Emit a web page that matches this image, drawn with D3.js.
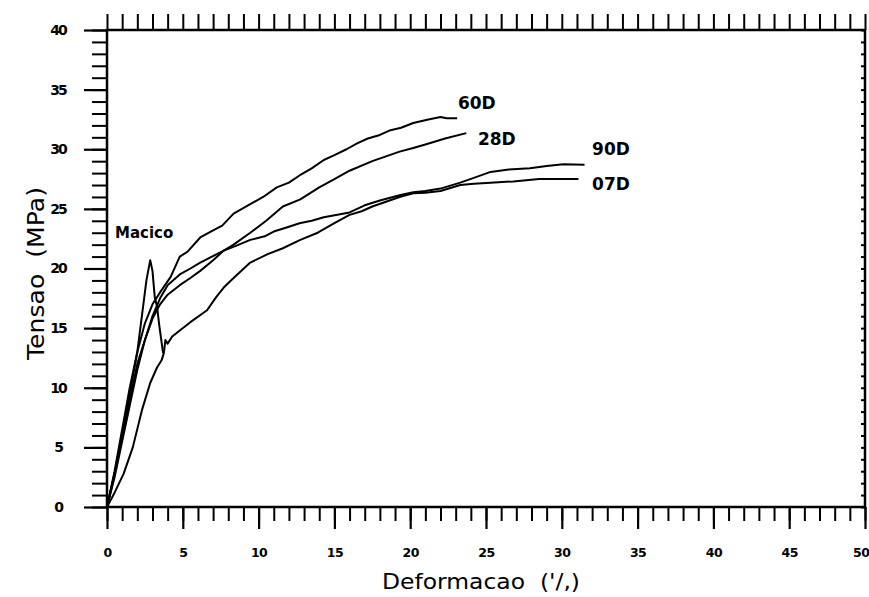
<!DOCTYPE html>
<html>
<head>
<meta charset="utf-8">
<script src="https://cdn.jsdelivr.net/npm/d3@7/dist/d3.min.js"></script>
<style>
  html, body { margin: 0; padding: 0; background: #fff; }
  svg { display: block; }
  text { font-family: "DejaVu Sans", sans-serif; fill: #000; white-space: pre; }
</style>
</head>
<body>
<svg id="chart" width="869" height="597"></svg>
<script>
// Stress–strain curves (Tensao in MPa vs Deformacao in per-mille)
const xTicks = [0, 5, 10, 15, 20, 25, 30, 35, 40, 45, 50];
const yTicks = [0, 5, 10, 15, 20, 25, 30, 35, 40];

const macico = [[0,0],[0.5,2.8],[1,6],[1.5,9.5],[2,13],[2.3,16],[2.6,19],[2.85,20.7],[3.0,19.8],[3.15,17.6],[3.3,16.8],[3.45,15.2],[3.7,12.9]];

const d60 = [[0,0],[0.5,3],[1,6.5],[1.5,10],[2,13],[2.5,15.4],[3,17],[3.5,18],[4.2,19.3],[4.8,21],[5.3,21.4],[6.15,22.6],[7,23.2],[7.6,23.6],[8.35,24.6],[9.45,25.4],[10.3,26.0],[11.2,26.8],[12.0,27.2],[12.7,27.8],[13.5,28.4],[14.3,29.1],[15.0,29.5],[15.8,30.0],[16.5,30.5],[17.2,30.9],[18.0,31.2],[18.7,31.6],[19.4,31.8],[20.2,32.2],[21.2,32.5],[22.0,32.7],[22.4,32.6],[23.1,32.6]];

const d28 = [[0,0],[0.5,2.8],[1,6],[1.5,9],[2,12],[2.5,14],[3,15.8],[3.5,17],[4,17.8],[4.8,18.6],[5.5,19.2],[6.15,19.8],[7,20.7],[7.7,21.5],[8.35,22],[9.45,23],[10.5,24],[11.6,25.2],[12.75,25.8],[14,26.8],[15,27.5],[16,28.2],[17.5,29.0],[18.4,29.4],[19.3,29.8],[20.2,30.1],[21,30.4],[22.3,30.9],[23.7,31.35]];

const d90 = [[0,0],[0.5,2.5],[1,5.5],[1.5,8.5],[2,11.5],[2.5,14],[3,16],[3.5,17.5],[4,18.6],[4.8,19.5],[5.5,20.0],[6.15,20.5],[7.7,21.5],[8.5,21.9],[9.45,22.4],[10.4,22.7],[11,23.1],[12.0,23.5],[12.7,23.8],[13.5,24.0],[14.3,24.3],[15.2,24.5],[16,24.7],[17.0,25.3],[18.0,25.7],[19.3,26.15],[20.2,26.4],[21,26.5],[22,26.7],[23.3,27.2],[24.2,27.6],[25.3,28.1],[26.5,28.3],[27.9,28.4],[29.0,28.6],[30.1,28.75],[31.5,28.7]];

const d07 = [[0,0],[0.5,1.2],[1.1,2.8],[1.7,5.0],[2.3,8.1],[2.85,10.4],[3.3,11.7],[3.6,12.3],[3.75,12.9],[3.85,14.0],[4.0,13.7],[4.3,14.3],[4.8,14.8],[5.5,15.5],[6.6,16.5],[7.2,17.6],[7.7,18.4],[8.35,19.2],[9.45,20.5],[10.6,21.2],[11.6,21.7],[12.75,22.4],[13.9,23.0],[15.0,23.8],[16,24.5],[16.8,24.8],[17.5,25.2],[18.4,25.6],[19.3,26.0],[20.2,26.3],[21,26.35],[22,26.5],[23.3,27.0],[24.2,27.1],[25.3,27.2],[26.8,27.3],[28.5,27.5],[29.8,27.5],[31.1,27.5]];

const series = [
  { name: "Macico", values: macico },
  { name: "60D", values: d60 },
  { name: "28D", values: d28 },
  { name: "90D", values: d90 },
  { name: "07D", values: d07 }
];

const svg = d3.select("#chart");
const x = d3.scaleLinear().domain([0, 50]).range([107, 865]);
const y = d3.scaleLinear().domain([0, 40]).range([507, 30]);

const minorX = d3.range(0, 51, 1);
const minorY = d3.range(0, 41, 1);

// Bottom axis: long ticks every 5, short every 1
svg.append("g")
  .attr("transform", `translate(0,${y(0)})`)
  .call(d3.axisBottom(x).tickValues(minorX).tickSize(14).tickFormat(""))
  .call(g => g.select(".domain").remove())
  .call(g => g.selectAll("line").attr("stroke", "#000").attr("stroke-width", 2));
svg.append("g")
  .attr("transform", `translate(0,${y(0)})`)
  .call(d3.axisBottom(x).tickValues(xTicks).tickSize(22).tickPadding(19).tickFormat(d3.format("d")))
  .call(g => g.select(".domain").remove())
  .call(g => g.selectAll("line").attr("stroke", "#000").attr("stroke-width", 2.2))
  .call(g => g.selectAll("text").attr("font-size", 12.5).attr("font-weight", "bold")
    .attr("letter-spacing", -0.5).attr("fill", "#000"))
  .call(g => g.selectAll("text").filter(d => d === 50).attr("text-anchor", "end").attr("dx", 4));

// Left axis
svg.append("g")
  .attr("transform", `translate(${x(0)},0)`)
  .call(d3.axisLeft(y).tickValues(minorY).tickSize(15).tickFormat(""))
  .call(g => g.select(".domain").remove())
  .call(g => g.selectAll("line").attr("stroke", "#000").attr("stroke-width", 2));
svg.append("g")
  .attr("transform", `translate(${x(0)},0)`)
  .call(d3.axisLeft(y).tickValues(yTicks).tickSize(23).tickPadding(34).tickFormat(d3.format("d")))
  .call(g => g.select(".domain").remove())
  .call(g => g.selectAll("line").attr("stroke", "#000").attr("stroke-width", 2.2))
  .call(g => g.selectAll("text").attr("font-size", 14).attr("font-weight", "bold")
    .attr("text-anchor", "middle").attr("dx", 8).attr("letter-spacing", -2).attr("fill", "#000"));

// Top axis: uniform ticks every 1
svg.append("g")
  .attr("transform", `translate(0,${y(40)})`)
  .call(d3.axisTop(x).tickValues(minorX).tickSize(16).tickFormat(""))
  .call(g => g.select(".domain").remove())
  .call(g => g.selectAll("line").attr("stroke", "#000").attr("stroke-width", 2));

// Right axis: small ticks
svg.append("g")
  .attr("transform", `translate(${x(50)},0)`)
  .call(d3.axisRight(y).tickValues(minorY).tickSize(-4).tickFormat(""))
  .call(g => g.select(".domain").remove())
  .call(g => g.selectAll("line").attr("stroke", "#000").attr("stroke-width", 2));

// Frame
svg.append("rect")
  .attr("x", x(0)).attr("y", y(40))
  .attr("width", x(50) - x(0)).attr("height", y(0) - y(40))
  .attr("fill", "none").attr("stroke", "#000").attr("stroke-width", 2.5);

// Curves
const line = d3.line().x(d => x(d[0])).y(d => y(d[1]));
svg.append("g").selectAll("path")
  .data(series)
  .join("path")
  .attr("d", d => line(d.values))
  .attr("fill", "none")
  .attr("stroke", "#000")
  .attr("stroke-width", 2)
  .attr("stroke-linejoin", "round");

// Curve labels
const labelPos = [
  { name: "Macico", at: [0.53, 22.56], size: 15 },
  { name: "60D", at: [23.15, 33.37], size: 17 },
  { name: "28D", at: [24.47, 30.36], size: 17 },
  { name: "90D", at: [32.0, 29.52], size: 17 },
  { name: "07D", at: [32.0, 26.58], size: 17 }
];
svg.append("g").selectAll("text")
  .data(labelPos)
  .join("text")
  .attr("x", d => x(d.at[0]))
  .attr("y", d => y(d.at[1]))
  .attr("font-size", d => d.size)
  .attr("font-weight", "bold")
  .text(d => d.name);

// Axis titles
svg.append("text")
  .attr("x", 382).attr("y", 589)
  .attr("font-size", 22)
  .attr("textLength", 198)
  .attr("lengthAdjust", "spacingAndGlyphs")
  .text("Deformacao  ('/,)");

svg.append("text")
  .attr("transform", "translate(44,360) rotate(-90)")
  .attr("font-size", 23)
  .attr("textLength", 173)
  .attr("lengthAdjust", "spacingAndGlyphs")
  .text("Tensao  (MPa)");
</script>
</body>
</html>
